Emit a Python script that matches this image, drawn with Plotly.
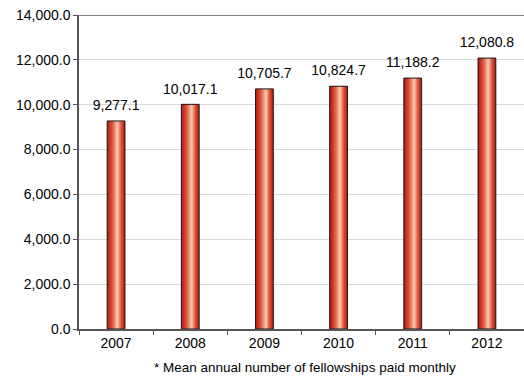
import plotly.graph_objects as go

years = ["2007", "2008", "2009", "2010", "2011", "2012"]
fellowships = [9277.1, 10017.1, 10705.7, 10824.7, 11188.2, 12080.8]
value_labels = ["9,277.1", "10,017.1", "10,705.7", "10,824.7", "11,188.2", "12,080.8"]
y_ticks = [0, 2000, 4000, 6000, 8000, 10000, 12000, 14000]
footnote = "* Mean annual number of fellowships paid monthly"

FONT = "Liberation Sans, Arial, sans-serif"
BAR_W = 0.24
HALF = BAR_W / 2
HIGHLIGHT = -HALF + 0.58 * BAR_W  # brightest column of the cylinder shading


def lerp(c1, c2, t):
    return tuple(round(a + (b - a) * t) for a, b in zip(c1, c2))


def shade(t):
    stops = [(0.0, (176, 28, 18)), (0.45, (222, 80, 58)), (0.8, (240, 160, 130)), (1.0, (250, 210, 188))]
    for (t0, c0), (t1, c1) in zip(stops, stops[1:]):
        if t <= t1:
            return "rgb(%d,%d,%d)" % lerp(c0, c1, (t - t0) / (t1 - t0))
    return "rgb(%d,%d,%d)" % stops[-1][1]


fig = go.Figure()

# nested strips, dark at the edges and light near the highlight, give each bar a rounded look
LAYERS = 14
for k in range(LAYERS):
    t = k / LAYERS
    left = -HALF + t * (HIGHLIGHT + HALF)
    right = HALF - t * (HALF - HIGHLIGHT)
    fig.add_trace(go.Bar(
        x=years, y=fellowships,
        width=right - left, offset=left,
        marker=dict(color=shade(t), line=dict(width=0)),
        hoverinfo="skip", showlegend=False,
    ))

# bar outline
fig.add_trace(go.Bar(
    x=years, y=fellowships,
    width=BAR_W, offset=-HALF,
    marker=dict(color="rgba(0,0,0,0)", line=dict(color="#1a1a1a", width=1)),
    showlegend=False,
))

# value labels above each bar (invisible markers add the gap between bar and text)
fig.add_trace(go.Scatter(
    x=years, y=fellowships, mode="markers+text",
    marker=dict(size=10, opacity=0),
    text=value_labels, textposition="top center",
    textfont=dict(family=FONT, size=14, color="#000000"),
    cliponaxis=False, showlegend=False, hoverinfo="skip",
))

# top border of the plot area
fig.add_shape(type="line", xref="paper", yref="y", x0=0, x1=1, y0=14000, y1=14000,
              line=dict(color="#555555", width=1.5))

fig.update_layout(
    barmode="overlay",
    width=524, height=377,
    margin=dict(l=79, r=0, t=15, b=48),
    paper_bgcolor="white", plot_bgcolor="white",
    font=dict(family=FONT, size=14, color="#000000"),
    xaxis=dict(
        type="category", showline=True, linecolor="#555555", linewidth=1.5,
        ticks="outside", tickson="boundaries", ticklen=4, tickcolor="#555555",
        showgrid=False, tickfont=dict(size=14),
    ),
    yaxis=dict(
        range=[0, 14000], tickvals=y_ticks, tickformat=",.1f",
        showline=True, linecolor="#555555", linewidth=1.5,
        ticks="outside", ticklen=4, tickcolor="#555555",
        showgrid=True, gridcolor="#d9d9d9", gridwidth=1, zeroline=False,
        tickfont=dict(size=14),
    ),
    annotations=[dict(
        text=footnote, xref="paper", yref="paper", x=0.507, y=-0.123,
        xanchor="center", yanchor="middle", showarrow=False,
        font=dict(family=FONT, size=13.5, color="#000000"),
    )],
)

fig.write_html("out.html")
